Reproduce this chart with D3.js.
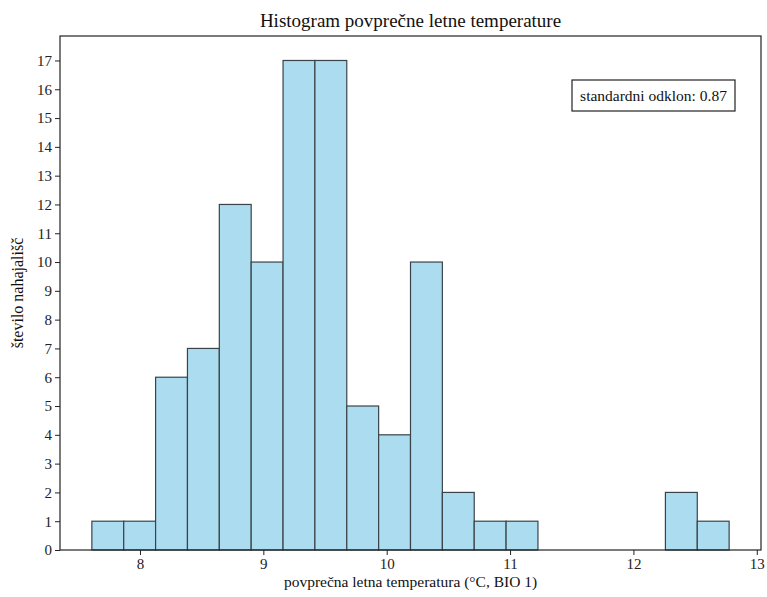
<!DOCTYPE html>
<html>
<head>
<meta charset="utf-8">
<script src="https://cdn.jsdelivr.net/npm/d3@7"></script>
<style>
  body { margin: 0; background: #fff; }
  svg { display: block; font-family: "Liberation Serif", "DejaVu Serif", serif; }
</style>
</head>
<body>
<div id="chart"></div>
<script>
// histogram: 20 equal bins between min and max of the data
const binStart = 7.61;
const binEnd = 12.776;
const binCounts = [1, 1, 6, 7, 12, 10, 17, 17, 5, 4, 10, 2, 1, 1, 0, 0, 0, 0, 2, 1];
const xTicks = [8, 9, 10, 11, 12, 13];
const yTicks = d3.range(0, 18);
const stdText = "standardni odklon: 0.87";

const W = 767, H = 597;
const m = { top: 36, right: 6, bottom: 47, left: 60 };
const innerW = W - m.left - m.right;
const innerH = H - m.top - m.bottom;

const binW = (binEnd - binStart) / binCounts.length;
const bins = binCounts.map((c, i) => ({ x0: binStart + i * binW, x1: binStart + (i + 1) * binW, n: c }));

// matplotlib-style 5% padding on x, 5% on top of y
const span = binEnd - binStart;
const x = d3.scaleLinear().domain([binStart - 0.05 * span, binEnd + 0.05 * span]).range([0, innerW]);
const yMax = d3.max(binCounts) * 1.05;
const y = d3.scaleLinear().domain([0, yMax]).range([innerH, 0]);

const svg = d3.select("#chart").append("svg").attr("width", W).attr("height", H);
const g = svg.append("g").attr("transform", `translate(${m.left},${m.top})`);

g.selectAll("rect.bar").data(bins.filter(d => d.n > 0)).join("rect")
    .attr("class", "bar")
    .attr("x", d => x(d.x0)).attr("width", d => x(d.x1) - x(d.x0))
    .attr("y", d => y(d.n)).attr("height", d => y(0) - y(d.n))
    .attr("fill", "#abdcf0").attr("stroke", "#3a4448").attr("stroke-width", 1.2);

const xAxis = g.append("g").attr("transform", `translate(0,${innerH})`)
    .call(d3.axisBottom(x).tickValues(xTicks).tickFormat(d3.format("d")).tickSize(5).tickPadding(3));
const yAxis = g.append("g")
    .call(d3.axisLeft(y).tickValues(yTicks).tickFormat(d3.format("d")).tickSize(5).tickPadding(3));
[xAxis, yAxis].forEach(a => {
    a.select(".domain").remove();
    a.selectAll("line").attr("stroke", "#222").attr("stroke-width", 1);
    a.selectAll("text").attr("fill", "#222").style("font-size", "15px")
        .style("font-family", "'Liberation Serif', serif");
});

// frame
g.append("rect").attr("width", innerW).attr("height", innerH)
    .attr("fill", "none").attr("stroke", "#222").attr("stroke-width", 1.2);

// title and labels
svg.append("text").attr("x", m.left + innerW / 2).attr("y", 27)
    .attr("text-anchor", "middle").style("font-size", "19px").attr("fill", "#111")
    .text("Histogram povprečne letne temperature");
svg.append("text").attr("x", m.left + innerW / 2).attr("y", 587)
    .attr("text-anchor", "middle").style("font-size", "15.5px").attr("fill", "#111")
    .text("povprečna letna temperatura (°C, BIO 1)");
svg.append("text")
    .attr("transform", `translate(23,${m.top + innerH / 2}) rotate(-90)`)
    .attr("text-anchor", "middle").style("font-size", "16px").attr("fill", "#111")
    .text("število nahajališč");

// std text box
const box = g.append("g").attr("transform", `translate(${innerW - 189},${44})`);
box.append("rect").attr("width", 163).attr("height", 31)
    .attr("fill", "#fff").attr("stroke", "#222").attr("stroke-width", 1.2);
box.append("text").attr("x", 81.5).attr("y", 21)
    .attr("text-anchor", "middle").style("font-size", "15.5px").attr("fill", "#111")
    .text(stdText);
</script>
</body>
</html>
